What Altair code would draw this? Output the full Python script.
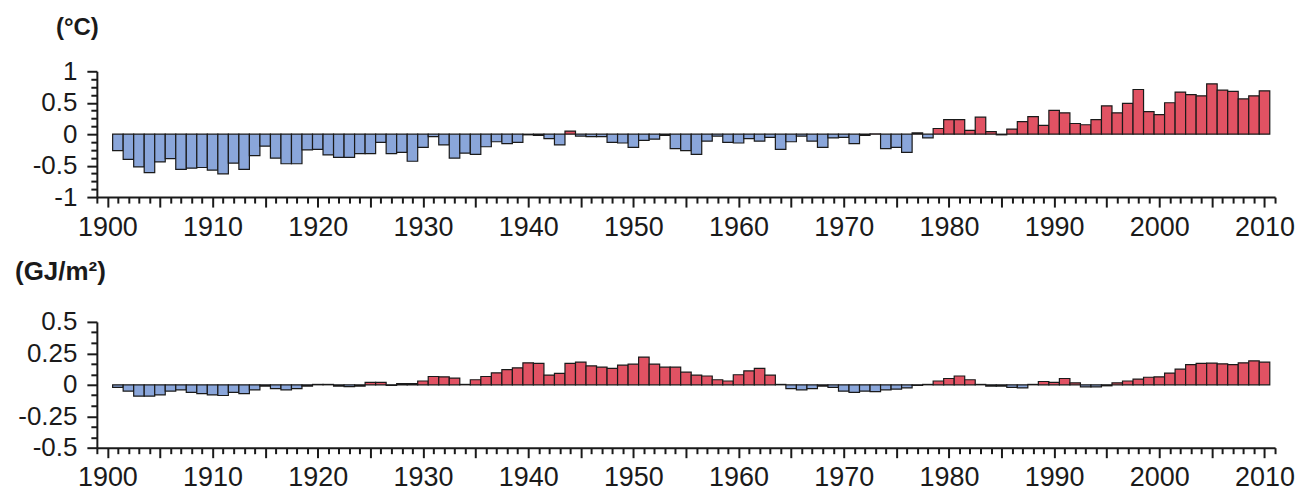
import altair as alt
import pandas as pd

years = list(range(1901, 2011))

# Temperature anomaly (°C), 1901-2010
temp_anom = [
    -0.26, -0.40, -0.52, -0.61, -0.44, -0.39, -0.56, -0.54, -0.53, -0.57,
    -0.63, -0.46, -0.56, -0.34, -0.19, -0.38, -0.47, -0.47, -0.25, -0.24,
    -0.33, -0.37, -0.37, -0.31, -0.31, -0.13, -0.31, -0.29, -0.43, -0.21,
    -0.04, -0.17, -0.38, -0.30, -0.32, -0.20, -0.12, -0.15, -0.13, -0.01,
    -0.02, -0.07, -0.17, 0.05, -0.03, -0.04, -0.04, -0.13, -0.14, -0.21,
    -0.10, -0.08, -0.02, -0.23, -0.26, -0.32, -0.11, -0.03, -0.13, -0.14,
    -0.07, -0.11, -0.05, -0.24, -0.12, -0.03, -0.11, -0.21, -0.06, -0.05,
    -0.15, -0.02, 0.005, -0.23, -0.21, -0.29, 0.02, -0.06, 0.09, 0.23,
    0.23, 0.06, 0.27, 0.04, -0.01, 0.08, 0.20, 0.28, 0.14, 0.38,
    0.34, 0.17, 0.15, 0.23, 0.45, 0.34, 0.49, 0.71, 0.36, 0.31,
    0.50, 0.67, 0.63, 0.61, 0.80, 0.70, 0.68, 0.56, 0.61, 0.69,
]

# Heat anomaly (GJ/m2), 1901-2010
heat_anom = [
    -0.02, -0.05, -0.09, -0.09, -0.08, -0.05, -0.04, -0.06, -0.07, -0.08,
    -0.085, -0.06, -0.07, -0.04, -0.01, -0.03, -0.04, -0.03, -0.01, 0.003,
    0.003, -0.01, -0.015, -0.01, 0.02, 0.02, -0.005, 0.01, 0.01, 0.03,
    0.066, 0.063, 0.053, 0.003, 0.04, 0.066, 0.095, 0.12, 0.135, 0.175,
    0.17, 0.077, 0.09, 0.17, 0.18, 0.15, 0.14, 0.13, 0.156, 0.164,
    0.22, 0.164, 0.14, 0.14, 0.10, 0.077, 0.07, 0.04, 0.03, 0.08,
    0.11, 0.13, 0.077, 0.003, -0.03, -0.04, -0.03, -0.01, -0.02, -0.05,
    -0.06, -0.05, -0.055, -0.04, -0.035, -0.025, -0.005, 0.003, 0.03, 0.05,
    0.07, 0.04, 0.003, -0.01, -0.01, -0.02, -0.025, 0.003, 0.026, 0.02,
    0.05, 0.016, -0.016, -0.016, -0.008, 0.016, 0.03, 0.045, 0.06, 0.063,
    0.093, 0.124, 0.16, 0.17, 0.172, 0.167, 0.16, 0.175, 0.19, 0.18,
]

x_tick_values = list(range(1899, 2012))
temp_tick_values = [k * 0.125 for k in range(-8, 9)]
heat_tick_values = [round(k / 12, 6) for k in range(-6, 7)]

RED = "#e15263"
BLUE = "#8aa6da"
FONT = "Liberation Sans"

df = pd.DataFrame({"year": years, "temp": temp_anom, "heat": heat_anom})
df["x0"] = df["year"] - 0.5
df["x1"] = df["year"] + 0.5
df["zero"] = 0.0

W, H = 1180, 126


def x_axis():
    return alt.Axis(
        values=x_tick_values,
        labelExpr="datum.value % 10 === 0 ? '' + datum.value : ''",
        tickSize={"condition": {"test": "datum.value % 5 === 0", "value": 10}, "value": 6},
        labelFontSize=27,
        labelPadding=7,
        labelOverlap=False,
        labelFlush=False,
        labelBound=False,
        title=None,
    )


def y_axis(title, mult, tx, ty, tsize):
    test = f"abs(datum.value*{mult} - round(datum.value*{mult})) < 0.0001"
    return alt.Axis(
        values=temp_tick_values if mult == 2 else heat_tick_values,
        labelExpr=f"{test} ? '' + datum.value : ''",
        tickSize={"condition": {"test": test, "value": 10}, "value": 6},
        labelFontSize=26,
        labelPadding=10,
        labelOverlap=False,
        labelFlush=False,
        labelBound=False,
        title=title,
        titleAngle=0,
        titleFont=FONT,
        titleFontSize=tsize,
        titleFontWeight="bold",
        titleAlign="center",
        titleBaseline="alphabetic",
        titleX=tx,
        titleY=ty,
        titleColor="#1a1a1a",
    )


def panel(field, domain, title, mult, tx, ty, tsize):
    return alt.Chart(df).mark_rect(stroke="#1a1a1a", strokeWidth=1.2).encode(
        x=alt.X("x0:Q", scale=alt.Scale(domain=[1899, 2011], nice=False, zero=False), axis=x_axis()),
        x2="x1:Q",
        y=alt.Y(f"{field}:Q", scale=alt.Scale(domain=domain, nice=False),
                axis=y_axis(title, mult, tx, ty, tsize)),
        y2="zero:Q",
        color=alt.condition(f"datum.{field} > 0", alt.value(RED), alt.value(BLUE)),
    ).properties(width=W, height=H)


top = panel("temp", [-1, 1], "(°C)", 2, -20, -37, 24)
bottom = panel("heat", [-0.5, 0.5], "(GJ/m²)", 4, -37, -42, 26)

chart = alt.vconcat(top, bottom, spacing=125, bounds="flush").properties(
    padding={"left": 6, "top": 7, "right": 5, "bottom": 5}
).configure_view(stroke=None).configure_axis(
    domainColor="#1a1a1a",
    domainWidth=2,
    tickColor="#1a1a1a",
    tickWidth=2,
    labelFont=FONT,
    labelColor="#1a1a1a",
    grid=False,
)

chart.save("out.html", embed_options={"renderer": "svg", "actions": False})
